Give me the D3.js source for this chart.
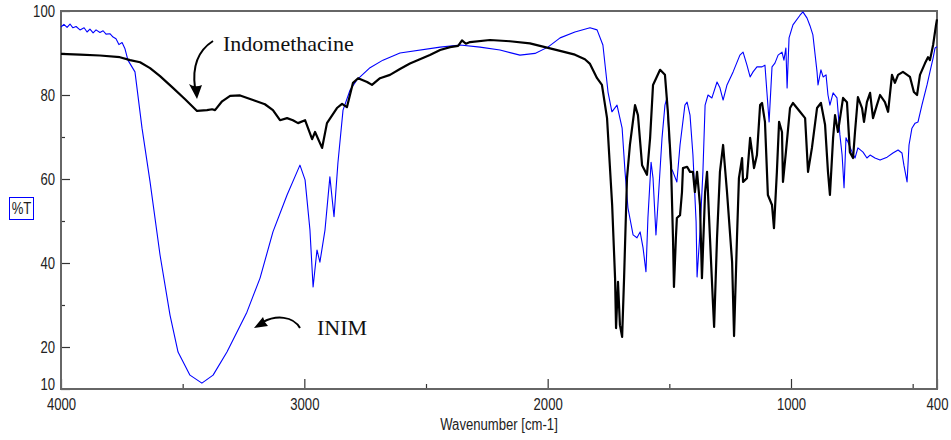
<!DOCTYPE html>
<html>
<head>
<meta charset="utf-8">
<script src="https://cdn.jsdelivr.net/npm/d3@7"></script>
<style>
  body { margin: 0; background: #fff; }
  svg { display: block; }
  .tick text { font-family: "Liberation Sans", Arial, sans-serif; font-size: 16px; fill: #222; }
</style>
</head>
<body>
<svg id="chart" width="951" height="440"></svg>
<script>
// IR spectra, [wavenumber cm-1, %T]
const indomethacine = [
  [4000, 89.8], [3922, 89.6], [3840, 89.4], [3758, 89.0], [3716, 88.3], [3675, 87.8],
  [3634, 86.4], [3593, 84.5], [3540, 81.7], [3490, 79.0], [3441, 76.2], [3400, 76.4],
  [3379, 76.6], [3367, 76.4], [3338, 78.5], [3305, 79.8], [3264, 79.9], [3211, 78.8],
  [3162, 77.8], [3129, 76.4], [3100, 74.0], [3071, 74.5], [3047, 74.0], [3026, 73.3],
  [2997, 74.0], [2968, 69.5], [2956, 71.2], [2927, 67.4], [2907, 73.3], [2866, 76.9],
  [2845, 77.9], [2825, 77.1], [2800, 82.9], [2779, 84.0], [2742, 83.1], [2722, 82.4],
  [2689, 84.0], [2648, 84.8], [2607, 86.2], [2566, 87.5], [2525, 88.5], [2484, 89.5],
  [2442, 90.7], [2401, 91.4], [2368, 91.7], [2352, 93.0], [2336, 92.2], [2319, 92.6],
  [2237, 93.1], [2155, 92.8], [2073, 92.3], [2011, 91.4], [1949, 90.5], [1888, 89.6],
  [1847, 88.5], [1826, 87.4], [1797, 84.0], [1777, 82.4], [1756, 74.5], [1735, 53.8],
  [1723, 36.4], [1719, 24.5], [1711, 35.5], [1703, 25.2], [1694, 22.4], [1686, 36.4],
  [1674, 60.2], [1662, 68.1], [1641, 77.6], [1629, 75.2], [1612, 63.3], [1592, 61.0],
  [1579, 69.8], [1567, 82.4], [1538, 86.0], [1518, 84.8], [1506, 76.0], [1493, 63.3],
  [1485, 46.0], [1481, 34.3], [1473, 46.0], [1469, 50.7], [1456, 51.4], [1448, 56.9],
  [1444, 62.6], [1427, 62.9], [1415, 61.7], [1403, 61.7], [1395, 56.9], [1386, 61.7],
  [1374, 53.8], [1366, 36.4], [1353, 56.9], [1345, 61.7], [1333, 46.0], [1321, 30.7],
  [1316, 24.8], [1304, 46.0], [1292, 61.7], [1279, 68.1], [1263, 56.9], [1242, 40.2],
  [1234, 22.6], [1222, 46.0], [1214, 60.2], [1201, 65.0], [1197, 59.3], [1181, 60.2],
  [1168, 69.8], [1160, 66.4], [1152, 62.6], [1140, 65.7], [1127, 77.6], [1119, 78.1],
  [1107, 73.6], [1095, 56.2], [1078, 53.8], [1070, 48.3], [1058, 61.7], [1049, 73.6],
  [1037, 71.2], [1033, 59.3], [1021, 66.4], [1004, 76.9], [992, 78.1], [963, 76.0],
  [942, 74.5], [930, 61.7], [914, 67.4], [893, 76.9], [877, 78.1], [860, 72.9],
  [848, 61.7], [840, 56.2], [827, 69.8], [819, 75.2], [807, 71.2], [786, 79.3],
  [770, 78.3], [758, 66.4], [745, 65.0], [737, 71.2], [725, 79.5], [708, 76.9],
  [700, 73.6], [688, 78.3], [675, 80.5], [663, 74.5], [647, 77.6], [634, 80.0],
  [614, 78.3], [601, 76.0], [585, 84.8], [573, 82.9], [560, 84.8], [540, 85.5],
  [511, 84.3], [495, 80.7], [482, 80.0], [470, 84.8], [449, 87.6], [437, 89.0],
  [429, 88.3], [416, 91.9], [404, 96.7], [400, 98.0]
];

const inim = [
  [4000, 96.2], [3988, 96.8], [3975, 96.1], [3963, 96.9], [3951, 96.0], [3938, 96.3],
  [3922, 95.5], [3905, 96.0], [3893, 95.0], [3881, 95.7], [3868, 94.8], [3856, 95.5],
  [3840, 94.9], [3827, 95.3], [3815, 94.5], [3799, 94.6], [3786, 93.8], [3774, 93.4],
  [3762, 92.0], [3749, 92.5], [3737, 91.0], [3725, 88.3], [3696, 85.5], [3667, 72.1],
  [3634, 59.3], [3593, 41.9], [3552, 27.6], [3519, 18.8], [3470, 13.3], [3421, 11.4],
  [3375, 13.3], [3318, 18.8], [3236, 28.3], [3182, 36.4], [3129, 47.4], [3071, 56.2],
  [3030, 61.7], [3018, 63.3], [2997, 59.8], [2977, 47.9], [2964, 34.3], [2948, 43.1],
  [2936, 40.2], [2915, 47.9], [2895, 60.5], [2878, 51.0], [2862, 63.8], [2841, 76.4],
  [2812, 81.2], [2784, 83.6], [2730, 86.5], [2677, 88.3], [2607, 90.0], [2442, 91.4],
  [2360, 91.9], [2278, 91.4], [2196, 90.7], [2114, 89.5], [2052, 89.9], [1999, 91.4],
  [1949, 93.6], [1888, 95.0], [1826, 96.0], [1797, 95.5], [1773, 91.9], [1752, 80.7],
  [1736, 76.0], [1715, 77.6], [1694, 72.1], [1682, 61.7], [1670, 53.1], [1649, 46.7],
  [1633, 46.0], [1620, 47.4], [1608, 43.6], [1596, 37.9], [1588, 50.7], [1575, 64.0],
  [1567, 60.2], [1555, 46.7], [1547, 53.8], [1530, 69.8], [1518, 77.6], [1510, 79.3],
  [1501, 69.8], [1493, 62.6], [1485, 61.7], [1469, 59.3], [1456, 68.1], [1436, 77.6],
  [1427, 78.3], [1415, 75.2], [1403, 65.7], [1390, 49.8], [1386, 36.7], [1374, 47.4],
  [1362, 61.7], [1353, 77.6], [1341, 80.0], [1325, 79.3], [1304, 83.1], [1292, 81.7],
  [1279, 78.8], [1263, 82.4], [1238, 85.5], [1210, 89.5], [1197, 90.2], [1181, 87.1],
  [1168, 84.3], [1156, 85.5], [1140, 86.7], [1119, 86.7], [1107, 87.1], [1099, 80.7],
  [1090, 73.6], [1078, 86.7], [1066, 87.6], [1053, 89.5], [1037, 90.2], [1029, 88.3],
  [1021, 91.2], [1016, 81.7], [1008, 93.6], [992, 96.7], [963, 99.0], [951, 99.8],
  [934, 98.3], [922, 96.5], [910, 94.3], [893, 85.5], [889, 82.4], [877, 86.0],
  [868, 84.3], [856, 84.8], [848, 80.0], [840, 77.6], [827, 80.5], [811, 79.3],
  [799, 70.5], [790, 65.7], [782, 57.9], [774, 69.8], [766, 68.8], [749, 66.4],
  [737, 65.0], [725, 67.4], [704, 66.4], [688, 65.0], [675, 65.7], [655, 65.0],
  [634, 64.5], [605, 65.2], [581, 66.2], [560, 66.9], [544, 66.2], [536, 63.3],
  [523, 59.3], [515, 68.1], [503, 72.1], [490, 73.3], [478, 73.6], [462, 77.6],
  [441, 82.4], [429, 85.5], [416, 88.8], [408, 91.2], [400, 91.5]
];

const xMajorTicks = [4000, 3000, 2000, 1000, 400];
const xMinorTicks = [3500, 2500, 1500, 500];
const yMajorTicks = [10, 20, 40, 60, 80, 100];
const yMinorTicks = [30, 50, 70, 90];

const svg = d3.select('#chart');
const frame = { left: 61, right: 937, top: 11, bottom: 389 };
const axisColor = '#666';
const narrow = 0.82; // horizontal squeeze to mimic a narrow sans face
const sansFont = '"Liberation Sans", Arial, sans-serif';
const serifFont = '"Liberation Serif", "Times New Roman", serif';

const x = d3.scaleLinear().domain([4000, 400]).range([frame.left, frame.right]);
const y = d3.scaleLinear().domain([10, 100]).range([frame.bottom, frame.top]);

// Axes, ticks pointing into the plot
svg.append('g')
    .attr('transform', `translate(0,${frame.bottom})`)
    .call(d3.axisBottom(x).tickValues(xMajorTicks).tickSizeInner(-10).tickSizeOuter(0).tickPadding(10).tickFormat(d3.format('d')));
svg.append('g')
    .attr('transform', `translate(0,${frame.bottom})`)
    .call(d3.axisBottom(x).tickValues(xMinorTicks).tickSizeInner(-5).tickSizeOuter(0).tickFormat(''));

const yAxis = svg.append('g')
    .attr('transform', `translate(${frame.left},0)`)
    .call(d3.axisLeft(y).tickValues(yMajorTicks).tickSizeInner(-9).tickSizeOuter(0).tickPadding(6).tickFormat(d3.format('d')));
svg.append('g')
    .attr('transform', `translate(${frame.left},0)`)
    .call(d3.axisLeft(y).tickValues(yMinorTicks).tickSizeInner(-4).tickSizeOuter(0).tickFormat(''));

svg.selectAll('.domain').remove();
svg.selectAll('.tick line').attr('stroke', '#333').attr('stroke-width', 1.2);

// squeeze tick labels horizontally
svg.selectAll('.tick text').attr('transform', `scale(${narrow},1)`);
yAxis.selectAll('.tick text').attr('x', -6 / narrow);
// lift the bottom "10" a little off the x labels
yAxis.selectAll('.tick').filter(d => d === 10).select('text').attr('dy', '0.05em');

// Frame
svg.append('rect')
    .attr('x', frame.left)
    .attr('y', frame.top)
    .attr('width', frame.right - frame.left)
    .attr('height', frame.bottom - frame.top)
    .attr('fill', 'none')
    .attr('stroke', axisColor)
    .attr('stroke-width', 2);

// Spectra
const line = d3.line()
    .x(d => x(d[0]))
    .y(d => y(d[1]));

svg.append('path')
    .datum(inim)
    .attr('d', line)
    .attr('fill', 'none')
    .attr('stroke', '#0000ff')
    .attr('stroke-width', 1.1)
    .attr('stroke-linejoin', 'round');

svg.append('path')
    .datum(indomethacine)
    .attr('d', line)
    .attr('fill', 'none')
    .attr('stroke', '#000')
    .attr('stroke-width', 2.2)
    .attr('stroke-linejoin', 'round');

// Axis titles
svg.append('text')
    .attr('transform', `translate(499,430) scale(${narrow},1)`)
    .attr('text-anchor', 'middle')
    .style('font-family', sansFont)
    .style('font-size', '16px')
    .attr('fill', '#222')
    .text('Wavenumber [cm-1]');

svg.append('rect')
    .attr('x', 9.5)
    .attr('y', 197.5)
    .attr('width', 24)
    .attr('height', 22)
    .attr('fill', 'none')
    .attr('stroke', '#0000ff')
    .attr('stroke-width', 1);

svg.append('text')
    .attr('transform', `translate(21.5,214) scale(${narrow},1)`)
    .attr('text-anchor', 'middle')
    .style('font-family', sansFont)
    .style('font-size', '16px')
    .attr('fill', '#222')
    .text('%T');

// Annotations
svg.append('text')
    .attr('x', 223)
    .attr('y', 51)
    .style('font-family', serifFont)
    .style('font-size', '22px')
    .attr('fill', '#111')
    .text('Indomethacine');

svg.append('path')
    .attr('d', 'M213,41 C199,50 192,66 195,88')
    .attr('fill', 'none')
    .attr('stroke', '#000')
    .attr('stroke-width', 2);
svg.append('path')
    .attr('d', 'M197,99 L189,84 Q195,88 202,85 Z')
    .attr('fill', '#000');

svg.append('text')
    .attr('x', 317)
    .attr('y', 335)
    .style('font-family', serifFont)
    .style('font-size', '22px')
    .attr('fill', '#111')
    .text('INIM');

svg.append('path')
    .attr('d', 'M300,328 C293,316 276,315 263,322')
    .attr('fill', 'none')
    .attr('stroke', '#000')
    .attr('stroke-width', 2);
svg.append('path')
    .attr('d', 'M254,328 L263,317 Q264,322 268,326 Z')
    .attr('fill', '#000');
</script>
</body>
</html>
